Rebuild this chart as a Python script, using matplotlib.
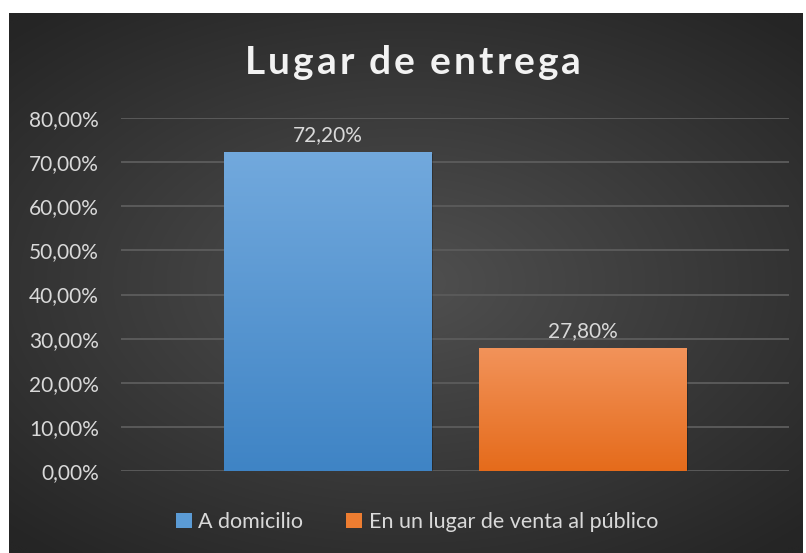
import numpy as np
import matplotlib
matplotlib.use('Agg')
import matplotlib.pyplot as plt
from matplotlib.patches import Rectangle

categorias = ['A domicilio', 'En un lugar de venta al público']
valores = [0.722, 0.278]
etiquetas = ['72,20%', '27,80%']
ticks = [0, 0.1, 0.2, 0.3, 0.4, 0.5, 0.6, 0.7, 0.8]
tick_labels = ['0,00%', '10,00%', '20,00%', '30,00%', '40,00%', '50,00%', '60,00%', '70,00%', '80,00%']
titulo = 'Lugar de entrega'

# colores arriba/abajo de cada barra (degradado)
col_top = ['#72a9dd', '#f2935a']
col_bot = ['#3f84c5', '#e56b1b']

plt.rcParams['font.family'] = ['Lato', 'DejaVu Sans']
fig = plt.figure(figsize=(8.06, 5.53), dpi=100, facecolor='white')

# fondo oscuro con degradado radial
bg = fig.add_axes([9/806, 0, 794/806, 540/553])
yy, xx = np.mgrid[-1:1:300j, -1:1:400j]
r = np.sqrt((xx*0.9)**2 + (yy*1.0)**2)
r = np.clip(r/1.3, 0, 1)
c0 = np.array([0x50, 0x50, 0x50])/255
c1 = np.array([0x25, 0x25, 0x25])/255
img = c0[None, None, :]*(1-r[..., None]) + c1[None, None, :]*r[..., None]
bg.imshow(img, aspect='auto', extent=[0, 1, 0, 1], interpolation='bicubic')
bg.set_axis_off()

ax = fig.add_axes([121/806, 82/553, 668/806, 353/553])
ax.set_facecolor('none')
ax.set_xlim(-1, 1)
ax.set_ylim(0, 0.8)

ancho = 207/334
desp = 127.5/334
xs = [-desp, desp]
for i, (x, v) in enumerate(zip(xs, valores)):
    # sombra
    ax.add_patch(Rectangle((x - ancho/2 + 0.006, -0.004), ancho, v, facecolor='black',
                           alpha=0.25, edgecolor='none', zorder=2))
    b = ax.bar(x, v, width=ancho, color='none', zorder=3)[0]
    t = np.array(matplotlib.colors.to_rgb(col_top[i]))
    bo = np.array(matplotlib.colors.to_rgb(col_bot[i]))
    g = np.linspace(0, 1, 256)[:, None, None]
    grad = t[None, None, :]*(1-g) + bo[None, None, :]*g
    im = ax.imshow(grad, aspect='auto', extent=[x - ancho/2, x + ancho/2, 0, v],
                   zorder=3, interpolation='bilinear')
    im.set_clip_path(b)
    ax.text(x, v + 0.016, etiquetas[i], ha='center', va='bottom', fontsize=15, color='#d9d9d9')

ax.set_yticks(ticks)
ax.set_yticklabels(tick_labels)
ax.set_xticks([])
ax.tick_params(axis='y', length=0, pad=16, labelsize=15, labelcolor='#d9d9d9')
ax.grid(axis='y', color='#5a5a5a', linewidth=1.4, zorder=1)
ax.set_axisbelow(True)
for s in ax.spines.values():
    s.set_visible(False)
ax.set_xlim(-1, 1)
ax.set_ylim(0, 0.8)

# leyenda
handles = [Rectangle((0, 0), 1, 1, facecolor='#5b9bd5'), Rectangle((0, 0), 1, 1, facecolor='#ed7d31')]
fig.legend(handles, categorias, loc='center', bbox_to_anchor=(417/806, 1 - 522/553), ncol=2,
           frameon=False, fontsize=15.5, labelcolor='#d9d9d9', handlelength=0.75, handleheight=0.75,
           handletextpad=0.3, columnspacing=2.0)

# titulo con espaciado entre letras
fig.canvas.draw()
ren = fig.canvas.get_renderer()
espacio = 3.0
piezas = []
total = 0
for ch in titulo:
    t = fig.text(0, 0, ch if ch != ' ' else '\u00a0', fontsize=28, fontweight='bold', color='#f2f2f2')
    w = t.get_window_extent(ren).width
    if ch == ' ':
        w = 9
    piezas.append((t, w))
    total += w + espacio
total -= espacio
x0 = 413 - total/2
for t, w in piezas:
    t.set_position((x0/806, 1 - 62/553))
    t.set_va('center')
    x0 += w + espacio

fig.savefig('out.png', dpi=100, facecolor='white')
